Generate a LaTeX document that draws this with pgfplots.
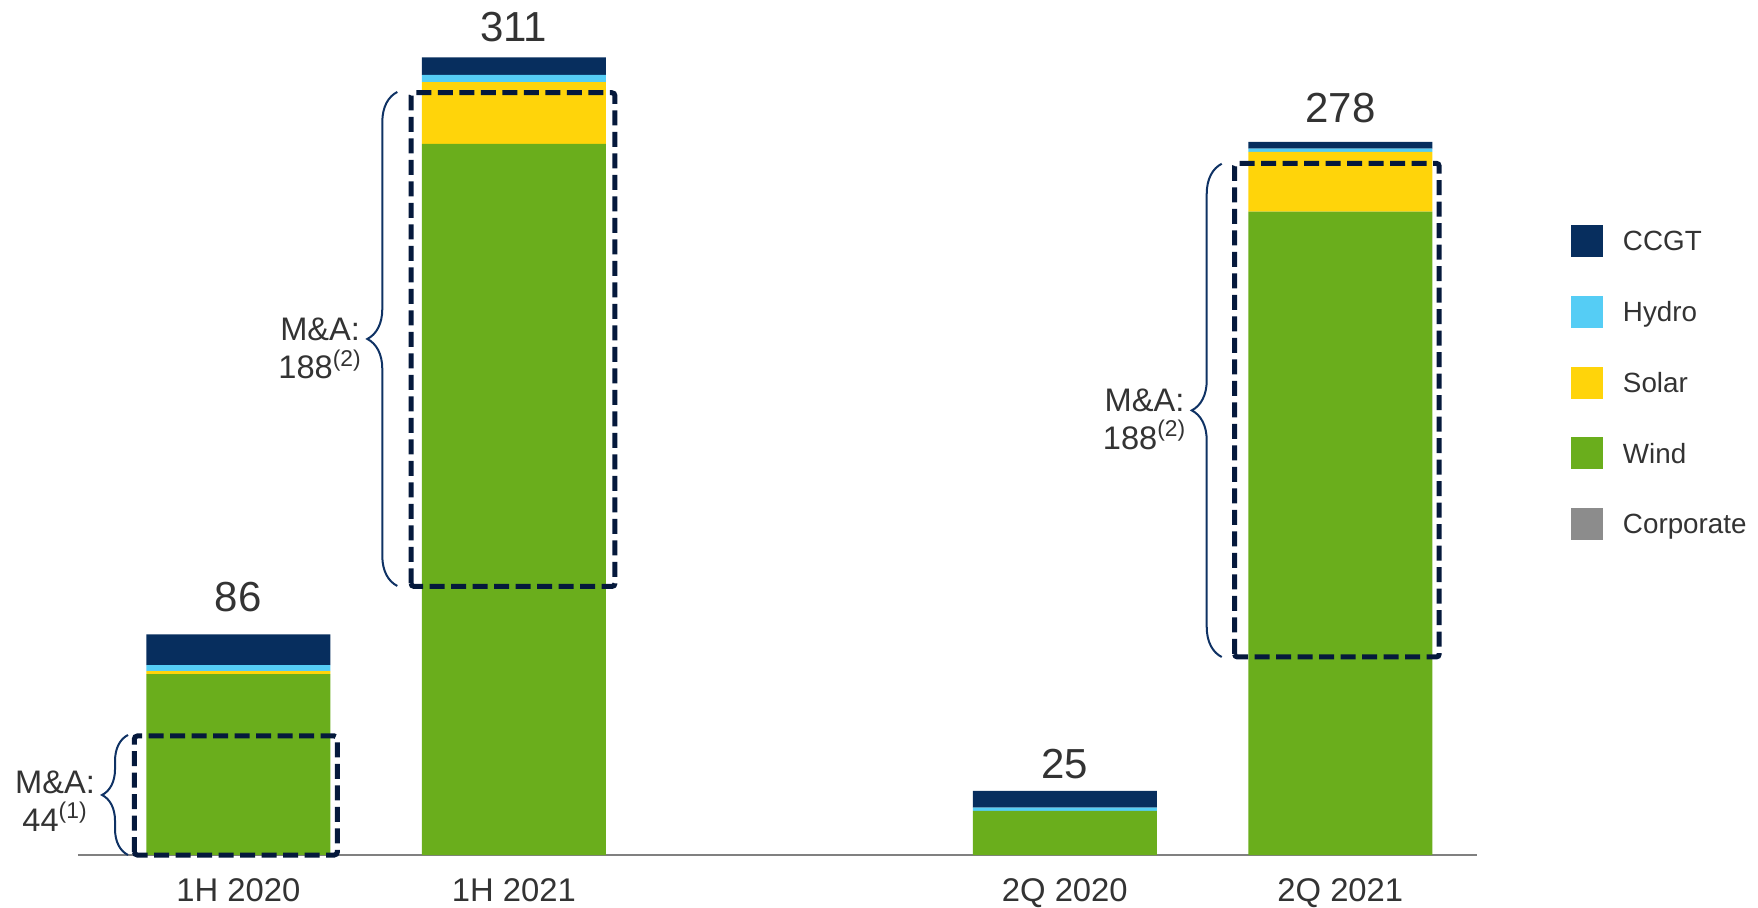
\documentclass[border=0pt]{standalone}
\usepackage{pgfplots}
\usepackage{pgfplotstable}
\pgfplotsset{compat=1.18}
\usepackage{fontspec}
\setmainfont{Liberation Sans}
\usetikzlibrary{decorations.pathreplacing}

\definecolor{ccgt}{HTML}{072E5E}
\definecolor{hydro}{HTML}{55CDF5}
\definecolor{solar}{HTML}{FFD40A}
\definecolor{wind}{HTML}{6AAE1C}
\definecolor{corporate}{HTML}{8C8C8C}
\definecolor{boxnavy}{HTML}{05193C}
\definecolor{bracenavy}{HTML}{0F3264}
\definecolor{txt}{HTML}{333333}
\definecolor{axisgray}{HTML}{808080}

% square legend swatches, dashed M&A frames and braces
\pgfplotsset{
  sq/.style={legend image code/.code={\fill[##1,draw=none] (0pt,-8pt) rectangle (16pt,8pt);}},
}
\tikzset{
  mabox/.style={boxnavy, line width=2.5pt, dash pattern=on 7.5pt off 3.25pt, rounded corners=1.5pt},
  mabrace/.style={bracenavy, line width=1pt, decorate, decoration={brace, amplitude=#1}},
}

% capacity by technology; periods plotted at 0,1 (1H) and 3,4 (2Q)
\pgfplotstableread{
x wind solar hydro ccgt
0 70.5 1.2 2.3 12.0
1 277.3 24.0 2.9 6.8
3 17.2 0.0 1.3 6.5
4 250.8 23.3 1.3 2.6
}\capacity

\newcommand{\totfont}{\fontsize{21}{25}\selectfont}
\newcommand{\mafont}{\fontsize{16.3}{19}\selectfont}

\begin{document}
\begin{tikzpicture}
\path[use as bounding box] (0,0) rectangle (879pt,453.5pt);
\begin{axis}[
  at={(39pt,26pt)}, anchor=south west,
  scale only axis, width=699.35pt, height=423.2pt,
  xmin=-0.582, xmax=4.495, ymin=0, ymax=330,
  clip=false,
  ybar stacked, bar width=92pt,
  axis x line=bottom, axis y line=none,
  x axis line style={draw=axisgray, line width=1pt, -},
  xtick={0,1,3,4},
  xticklabels={1H 2020,1H 2021,2Q 2020,2Q 2021},
  major tick length=0pt,
  xticklabel style={anchor=base, yshift=-23.35pt, inner sep=0pt,
    font=\fontsize{16.4}{19}\selectfont, text=txt},
  ytick=\empty,
  legend cell align=left,
  legend style={at={(axis description cs:1.0674,0.7443)}, anchor=north west,
    draw=none, fill=none, inner sep=0pt, outer sep=0pt,
    row sep=19.4pt, column sep=10pt,
    nodes={inner sep=0pt, text depth=0pt,
      font=\fontsize{13.9}{16}\selectfont, text=txt}},
]
\addplot[fill=wind, draw=none, forget plot] table[x=x, y=wind] {\capacity};
\addplot[fill=solar, draw=none, forget plot] table[x=x, y=solar] {\capacity};
\addplot[fill=hydro, draw=none, forget plot] table[x=x, y=hydro] {\capacity};
\addplot[fill=ccgt, draw=none, forget plot] table[x=x, y=ccgt] {\capacity};

\addlegendimage{sq, fill=ccgt}
\addlegendentry{CCGT}
\addlegendimage{sq, fill=hydro}
\addlegendentry{Hydro}
\addlegendimage{sq, fill=solar}
\addlegendentry{Solar}
\addlegendimage{sq, fill=wind}
\addlegendentry{Wind}
\addlegendimage{sq, fill=corporate}
\addlegendentry{Corporate}

% period totals
\node[anchor=base, yshift=11.3pt, font=\totfont, text=txt] at (axis cs:0,86) {86};
\node[anchor=base, yshift=8pt, font=\totfont, text=txt] at (axis cs:1,311) {311};
\node[anchor=base, yshift=6.2pt, font=\totfont, text=txt] at (axis cs:3,25) {25};
\node[anchor=base, yshift=9.6pt, font=\totfont, text=txt] at (axis cs:4,278) {278};

% corners of the M&A frames
\coordinate (m1a) at (axis cs:-0.3775,0);
\coordinate (m1b) at (axis cs:0.3593,46.4);
\coordinate (m2a) at (axis cs:0.627,104.7);
\coordinate (m2b) at (axis cs:1.367,297.2);
\coordinate (m3a) at (axis cs:3.616,77.2);
\coordinate (m3b) at (axis cs:4.359,269.7);

\draw[mabrace=13pt] (axis cs:-0.4004,0) -- (axis cs:-0.4004,46.8);
\draw[mabrace=15pt] (axis cs:0.577,104.9) -- (axis cs:0.577,297.5);
\draw[mabrace=15pt] (axis cs:3.5695,77.2) -- (axis cs:3.5695,269.5);

\node[anchor=base, xshift=-36.5pt, yshift=0.8pt, font=\mafont, text=txt] at (axis cs:-0.4004,23.4) {M\&A:};
\node[anchor=base, xshift=-36.5pt, yshift=-18.2pt, font=\mafont, text=txt] at (axis cs:-0.4004,23.4) {44\textsuperscript{(1)}};
\node[anchor=base, xshift=-38.6pt, yshift=-1pt, font=\mafont, text=txt] at (axis cs:0.577,201.2) {M\&A:};
\node[anchor=base, xshift=-38.6pt, yshift=-20pt, font=\mafont, text=txt] at (axis cs:0.577,201.2) {188\textsuperscript{(2)}};
\node[anchor=base, xshift=-38.6pt, yshift=-0.6pt, font=\mafont, text=txt] at (axis cs:3.5695,173.35) {M\&A:};
\node[anchor=base, xshift=-38.6pt, yshift=-19.5pt, font=\mafont, text=txt] at (axis cs:3.5695,173.35) {188\textsuperscript{(2)}};
\end{axis}
% dashed M&A frames drawn over the bars
\draw[mabox] (m1a) rectangle (m1b);
\draw[mabox] (m2a) rectangle (m2b);
\draw[mabox] (m3a) rectangle (m3b);
\end{tikzpicture}
\end{document}
